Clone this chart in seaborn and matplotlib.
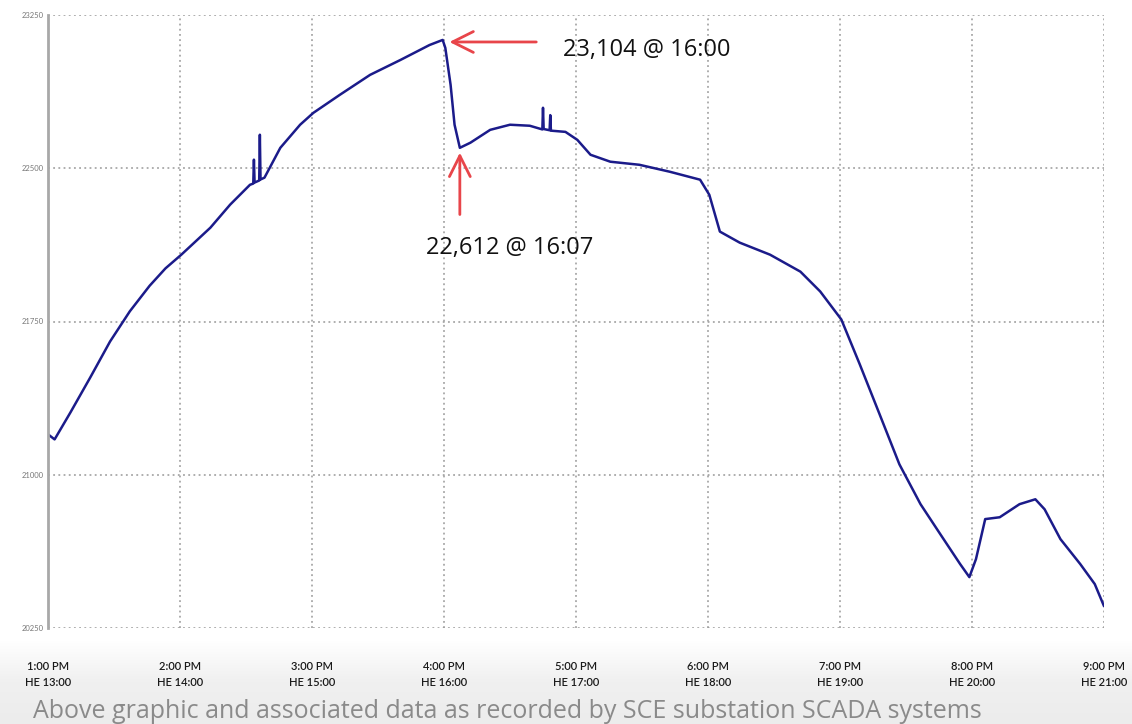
import numpy as np
import pandas as pd
import matplotlib
matplotlib.use("Agg")
import matplotlib.pyplot as plt
import seaborn as sns

# ---- data (hour of day, MW) ----
hours = [13.00, 13.05, 13.17, 13.32, 13.47, 13.62, 13.77, 13.89, 14.01, 14.23,
         14.38, 14.53, 14.555, 14.56, 14.565, 14.60, 14.605, 14.61, 14.64, 14.76,
         14.91, 15.01, 15.21, 15.44, 15.67, 15.89, 15.99, 16.01, 16.05, 16.08,
         16.12, 16.20, 16.35, 16.50, 16.65, 16.745, 16.75, 16.755, 16.80, 16.805,
         16.81, 16.92, 17.01, 17.11, 17.26, 17.48, 17.71, 17.94, 18.01, 18.09,
         18.24, 18.47, 18.70, 18.85, 19.01, 19.15, 19.30, 19.45, 19.61, 19.76,
         19.91, 19.98, 20.03, 20.10, 20.21, 20.36, 20.48, 20.55, 20.67, 20.82,
         20.93, 21.00]
load = [21198, 21173, 21305, 21476, 21652, 21800, 21925, 22010, 22077, 22209,
        22322, 22419, 22425, 22542, 22430, 22440, 22664, 22445, 22454, 22600,
        22713, 22771, 22859, 22957, 23030, 23103, 23128, 23089, 22908, 22713,
        22600, 22625, 22688, 22713, 22708, 22690, 22796, 22692, 22686, 22760,
        22684, 22678, 22639, 22566, 22532, 22517, 22483, 22444, 22370, 22190,
        22136, 22077, 21994, 21897, 21760, 21540, 21296, 21051, 20856, 20709,
        20563, 20499, 20587, 20783, 20792, 20856, 20880, 20831, 20685, 20563,
        20465, 20357]

x_ticks = [13, 14, 15, 16, 17, 18, 19, 20, 21]
x_labels = ["1:00 PM\nHE 13:00", "2:00 PM\nHE 14:00", "3:00 PM\nHE 15:00",
            "4:00 PM\nHE 16:00", "5:00 PM\nHE 17:00", "6:00 PM\nHE 18:00",
            "7:00 PM\nHE 19:00", "8:00 PM\nHE 20:00", "9:00 PM\nHE 21:00"]
y_ticks = [20250, 21000, 21750, 22500, 23250]

peak_label = "23,104 @ 16:00"
trough_label = "22,612 @ 16:07"
caption = "Above graphic and associated data as recorded by SCE substation SCADA systems"

df = pd.DataFrame({"hour": hours, "load": load})

sns.set_style("white")
plt.rcParams["font.family"] = ["Lato", "DejaVu Sans"]

fig = plt.figure(figsize=(11.32, 7.24), dpi=100)

# light gray gradient band at the bottom
bg = fig.add_axes([0, 0, 1, 0.115], zorder=-5)
grad = np.linspace(0, 1, 100).reshape(-1, 1)
bg.imshow(grad, aspect="auto", cmap=matplotlib.colors.LinearSegmentedColormap.from_list(
    "g", ["#ececec", "#f0f0f0", "#ffffff"]), origin="lower", extent=[0, 1, 0, 1])
bg.axis("off")

ax = fig.add_axes([48 / 1132, 1 - 628 / 724, (1104 - 48) / 1132, (628 - 15) / 724])
ax.patch.set_alpha(0)

sns.lineplot(data=df, x="hour", y="load", ax=ax, color="#1b1b8a", linewidth=1.8)

ax.set_xlim(13, 21)
ax.set_ylim(20250, 23250)
ax.set_xticks(x_ticks)
ax.set_xticklabels(x_labels, fontsize=8, color="#1a1a1a", linespacing=1.5,
                   fontweight="semibold")
ax.set_yticks(y_ticks)
ax.set_yticklabels([str(v) for v in y_ticks], fontsize=5.5, color="#777777")
ax.tick_params(axis="x", length=0, pad=24)
ax.tick_params(axis="y", length=0, pad=3)
ax.set_xlabel("")
ax.set_ylabel("")
ax.grid(True, linestyle=(0, (1.2, 2.2)), color="#999999", linewidth=1.1)
for s in ["top", "right", "bottom"]:
    ax.spines[s].set_visible(False)
ax.spines["left"].set_color("#a8a8a8")
ax.spines["left"].set_linewidth(2)

# annotations
red = "#e8454a"
ax.annotate("", xy=(16.02, 23118), xytext=(16.72, 23118),
            arrowprops=dict(arrowstyle="->,head_length=1.5,head_width=0.75", color=red, lw=2.0))
ax.text(16.9, 23080, peak_label, fontsize=17, color="#111111", va="center", ha="left",
        family=["Open Sans", "DejaVu Sans"])
ax.annotate("", xy=(16.12, 22590), xytext=(16.12, 22260),
            arrowprops=dict(arrowstyle="->,head_length=1.5,head_width=0.75", color=red, lw=2.0))
ax.text(15.86, 22110, trough_label, fontsize=17, color="#111111", va="center", ha="left",
        family=["Open Sans", "DejaVu Sans"])

fig.text(33 / 1132, 1 - 711 / 724, caption, fontsize=18, color="#8a8a8a",
         va="center", ha="left", family=["Open Sans", "DejaVu Sans"])

fig.savefig("out.png", dpi=100)
